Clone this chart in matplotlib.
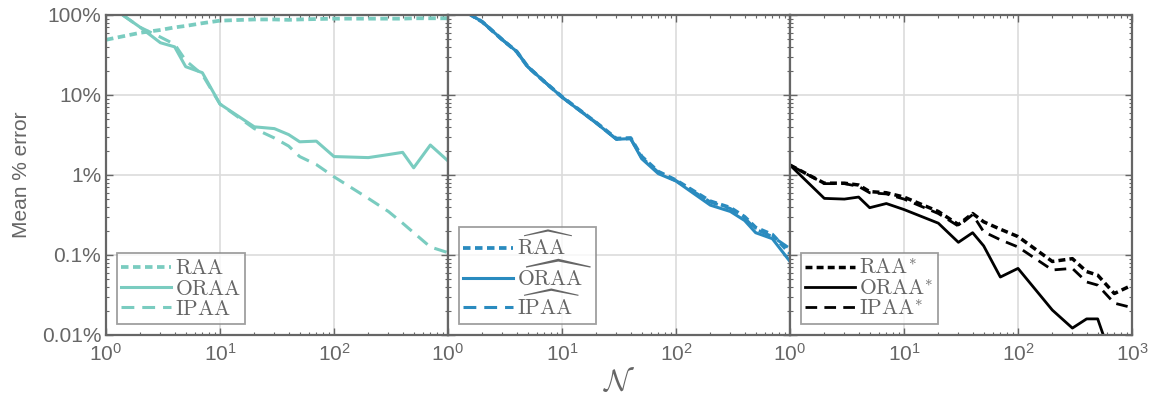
import math
import matplotlib
matplotlib.use('Agg')
import matplotlib.pyplot as plt
from matplotlib.ticker import FuncFormatter, NullFormatter, LogLocator
from matplotlib.font_manager import FontProperties

plt.rcParams['font.family'] = ['Liberation Sans', 'DejaVu Sans']
plt.rcParams['mathtext.fontset'] = 'custom'
plt.rcParams['mathtext.rm'] = 'Liberation Sans'
plt.rcParams['mathtext.it'] = 'Liberation Sans:italic'

# sample sizes
N = [1, 2, 3, 4, 5, 7, 10, 20, 30, 40, 50, 70, 100, 200, 300, 400, 500, 700, 1000]

# panel 1 (teal)
p1_raa = [49, 60, 65, 70, 73, 79, 85, 88, 88, 87, 88, 89, 90, 90, 90, 90, 91, 91, 91]
p1_oraa = [140, 70, 45, 40, 22.6, 19, 7.7, 4.0, 3.8, 3.2, 2.6, 2.65, 1.7, 1.65, 1.8, 1.92, 1.23, 2.37, 1.5]
p1_ipaa = [140, 70, 53, 43, 27, 18, 7.7, 3.8, 2.9, 2.3, 1.7, 1.35, 0.95, 0.51, 0.35, 0.25, 0.19, 0.126, 0.107]

# panel 2 (blue)
p2_raa = [150, 82, 49, 35, 22.6, 14.7, 9.5, 4.5, 2.85, 2.9, 1.7, 1.1, 0.86, 0.47, 0.39, 0.3, 0.22, 0.18, 0.105]
p2_oraa = [150, 82, 49, 35, 22.6, 14.7, 9.4, 4.45, 2.8, 2.85, 1.6, 1.04, 0.84, 0.42, 0.35, 0.27, 0.19, 0.16, 0.083]
p2_ipaa = [150, 82, 49, 35, 22.6, 14.7, 9.4, 4.5, 2.8, 2.85, 1.65, 1.08, 0.85, 0.46, 0.38, 0.29, 0.21, 0.17, 0.12]

# panel 3 (black)
p3_raa = [1.33, 0.79, 0.79, 0.75, 0.62, 0.6, 0.53, 0.35, 0.24, 0.33, 0.26, 0.21, 0.17, 0.083, 0.09, 0.062, 0.056, 0.033, 0.042]
p3_oraa = [1.33, 0.51, 0.5, 0.53, 0.39, 0.44, 0.37, 0.25, 0.144, 0.19, 0.13, 0.053, 0.068, 0.0205, 0.0122, 0.0159, 0.0159, 0.004, 0.003]
p3_ipaa = [1.33, 0.78, 0.78, 0.72, 0.6, 0.58, 0.5, 0.33, 0.23, 0.32, 0.195, 0.155, 0.126, 0.065, 0.068, 0.046, 0.042, 0.025, 0.022]

labels1 = [r'$\mathrm{RAA}$', r'$\mathrm{ORAA}$', r'$\mathrm{IPAA}$']
labels2 = [r'$\widehat{\mathrm{RAA}}$', r'$\widehat{\mathrm{ORAA}}$', r'$\widehat{\mathrm{IPAA}}$']
labels3 = [r'$\mathrm{RAA}^{*}$', r'$\mathrm{ORAA}^{*}$', r'$\mathrm{IPAA}^{*}$']

teal = '#7accc0'
blue = '#2a8bbf'
black = '#000000'
gray = '#666666'

dotted = (0, (2.0, 1.2))
dashed = (0, (4.2, 2.6))

fig = plt.figure(figsize=(11.57, 4.0), dpi=100)
lefts = [106, 448, 790]
axes = []
for l in lefts:
    ax = fig.add_axes([l / 1157, 65 / 400, 342 / 1157, 320 / 400])
    axes.append(ax)

panels = [
    (p1_raa, p1_oraa, p1_ipaa, teal, labels1, 2.2, -0.08),
    (p2_raa, p2_oraa, p2_ipaa, blue, labels2, 2.2, 0.0),
    (p3_raa, p3_oraa, p3_ipaa, black, labels3, 2.0, -0.08),
]

legprop = FontProperties(family='DejaVu Serif', size=15.5, math_fontfamily='cm')

for i, (ax, (raa, oraa, ipaa, c, labs, lw, lsp)) in enumerate(zip(axes, panels)):
    ax.plot(N, raa, color=c, lw=lw + 0.5, ls=dotted, label=labs[0])
    ax.plot(N, oraa, color=c, lw=lw, ls='-', label=labs[1])
    ax.plot(N, ipaa, color=c, lw=lw, ls=dashed, label=labs[2])
    ax.set_xscale('log')
    ax.set_yscale('log')
    ax.set_xlim(1, 1000)
    ax.set_ylim(0.01, 100)
    ax.grid(True, which='major', color='#dcdcdc', lw=1.2)
    ax.set_axisbelow(True)
    for s in ax.spines.values():
        s.set_color(gray)
        s.set_linewidth(1.6)
    ax.tick_params(which='both', direction='in', top=True, right=True, colors=gray,
                   labelsize=15, labelcolor=gray)
    ax.tick_params(which='major', length=5, width=1)
    ax.tick_params(which='minor', length=2.5, width=0.8)
    ax.xaxis.set_major_locator(LogLocator(base=10, numticks=10))
    ax.yaxis.set_major_locator(LogLocator(base=10, numticks=10))
    ax.xaxis.set_minor_formatter(NullFormatter())
    ax.yaxis.set_minor_formatter(NullFormatter())
    last = (i == 2)
    ax.xaxis.set_major_formatter(FuncFormatter(
        lambda v, p, last=last: ('$\\mathdefault{10^{%d}}$' % round(math.log10(v)))
        if (v < 999 or last) else ''))
    if i == 0:
        ax.yaxis.set_major_formatter(FuncFormatter(lambda v, p: f'{v:g}%'))
    else:
        ax.yaxis.set_major_formatter(NullFormatter())
    ax.tick_params(axis='x', pad=6)
    leg = ax.legend(loc='lower left', prop=legprop, frameon=True, fancybox=False,
                    handlelength=2.3, handletextpad=0.2, labelspacing=lsp,
                    borderpad=0.2, borderaxespad=0.5, edgecolor='#888888')
    leg.get_frame().set_linewidth(1.3)
    for t in leg.get_texts():
        t.set_color(gray)

axes[0].set_ylabel('Mean % error', fontsize=15, color=gray, labelpad=8)
axes[1].set_xlabel(r'$\mathcal{N}$', fontsize=22, color=gray, math_fontfamily='cm', labelpad=2)

fig.savefig('out.png', dpi=100)
